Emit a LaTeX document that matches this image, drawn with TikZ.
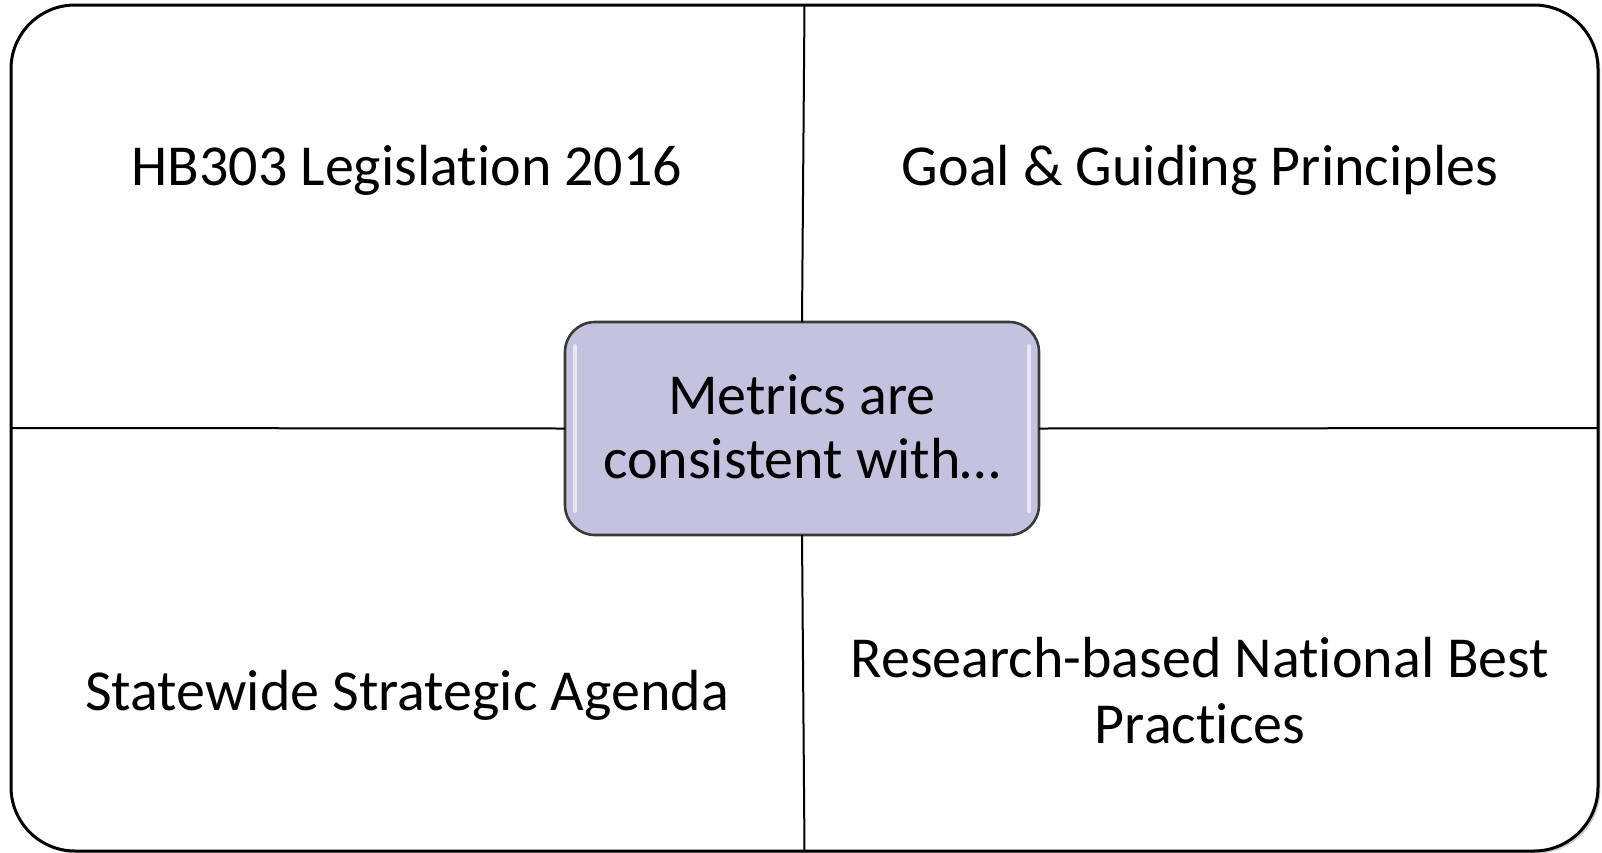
\documentclass[tikz,border=0pt]{standalone}
\usepackage{fontspec}
\setmainfont{Carlito}[Ligatures={NoCommon,NoContextual}, RawFeature={-liga;-clig;-dlig}]
\usetikzlibrary{shadows}
\definecolor{hubfill}{HTML}{C3C3E0}
\definecolor{hubline}{HTML}{3A3A3A}
\tikzset{
  frame/.style={draw=black, line width=1.5pt, rounded corners=32pt, fill=white,
    minimum width=793.5pt, minimum height=423pt, inner sep=0pt, outer sep=0pt,
    drop shadow={shadow xshift=1.2pt, shadow yshift=-1.2pt, opacity=0.35, fill=black!60}},
  hub/.style={draw=hubline, line width=1.3pt, rounded corners=15pt, fill=hubfill,
    minimum width=237pt, minimum height=106.5pt, inner sep=0pt, outer sep=0pt,
    align=center, font=\fontsize{29pt}{32pt}\selectfont},
  divider/.style={draw=black, line width=1pt},
  label/.style={align=center, inner sep=0pt, font=\fontsize{29pt}{33pt}\selectfont},
  gloss/.style={draw=white, line width=2pt, opacity=0.6, line cap=round}
}
\begin{document}
\begin{tikzpicture}[x=0.5pt, y=-0.5pt]
\useasboundingbox (0,0) rectangle (1602,852);
\node[frame] (frame) at (804.5,428) {};
\node[hub] (hub) at (802,428.5) {};
\draw[divider] (frame.north) -- (hub.north);
\draw[divider] (hub.south) -- (frame.south);
\draw[divider] (frame.west) -- (hub.west);
\draw[divider] (hub.east) -- (frame.east);
\node[hub, fill=none, draw=none] (hubtext) at (802,427) {Metrics are\\consistent with…};
\draw[gloss] ([xshift=5pt,yshift=-12pt]hub.north west) -- ([xshift=5pt,yshift=12pt]hub.south west);
\draw[gloss] ([xshift=-5pt,yshift=-12pt]hub.north east) -- ([xshift=-5pt,yshift=12pt]hub.south east);
\node[label, anchor=base] (tl) at (407,185) {HB303 Legislation 2016};
\node[label, anchor=base] (tr) at (1200,185) {Goal \& Guiding Principles};
\node[label, anchor=base] (bl) at (407,710) {Statewide Strategic Agenda};
\node[label] (br) at (1200,691) {Research-based National Best\\Practices};
\end{tikzpicture}
\end{document}
